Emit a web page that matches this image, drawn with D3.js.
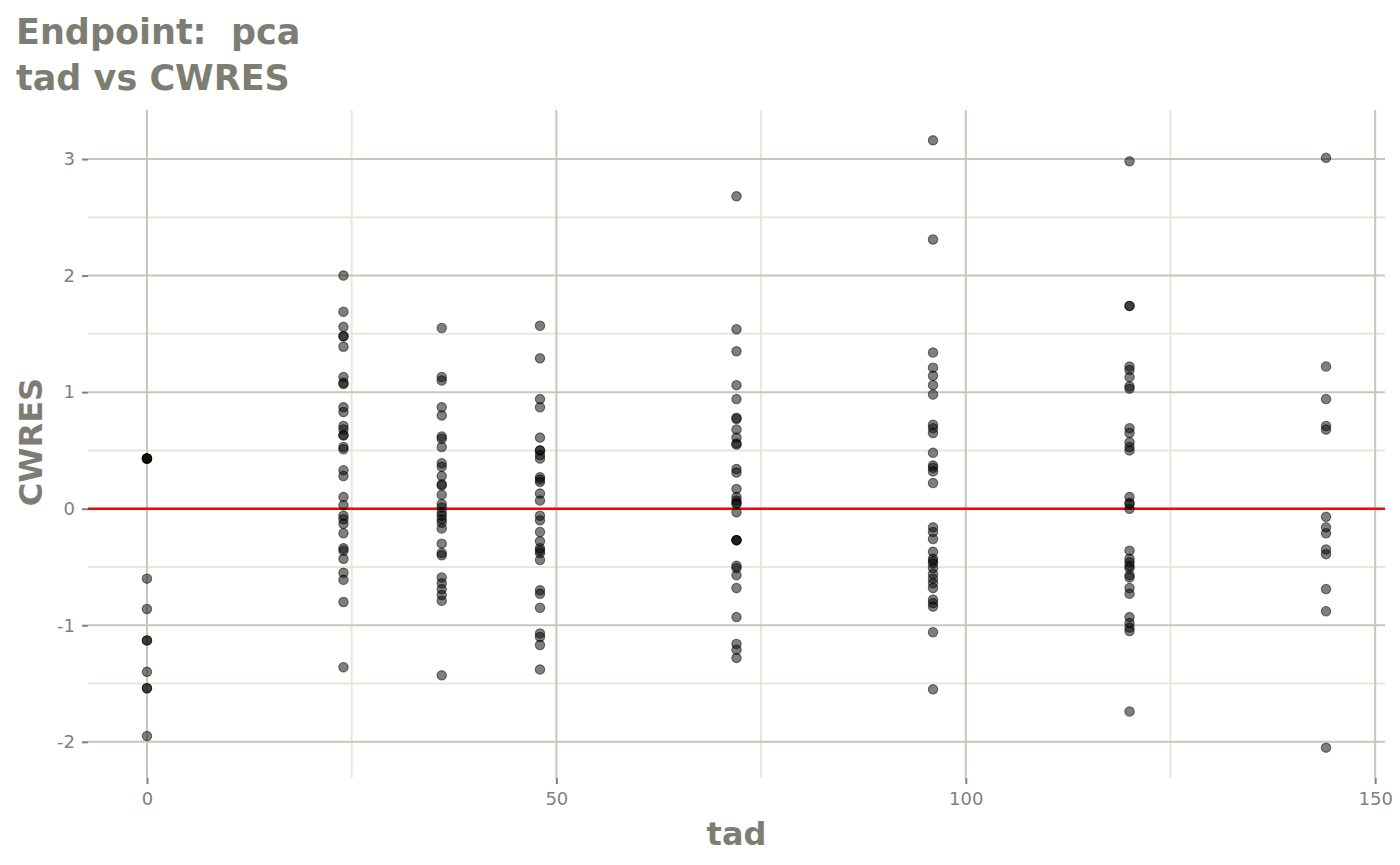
<!DOCTYPE html>
<html>
<head>
<meta charset="utf-8">
<script src="https://cdn.jsdelivr.net/npm/d3@7"></script>
<style>
  html, body { margin: 0; padding: 0; background: #ffffff; }
  svg { display: block; }
</style>
</head>
<body>
<div id="chart"></div>
<script>
// ---- data ----
const titleLines = ["Endpoint:  pca", "tad vs CWRES"];
const xLabel = "tad";
const yLabel = "CWRES";
const tadValues = [0, 24, 36, 48, 72, 96, 120, 144];
const cwresTad0 = [0.43, 0.43, 0.43, 0.43, -0.60, -0.86, -1.13, -1.13, -1.40, -1.54, -1.54, -1.95];
const cwresTad24 = [2.00, 1.69, 1.56, 1.48, 1.48, 1.39, 1.13, 1.08, 1.07, 0.87, 0.83, 0.71, 0.68, 0.63, 0.63, 0.53, 0.51, 0.33, 0.28, 0.10, 0.03, -0.06, -0.09, -0.13, -0.21, -0.34, -0.36, -0.43, -0.55, -0.61, -0.80, -1.36];
const cwresTad36 = [1.55, 1.13, 1.10, 0.87, 0.80, 0.62, 0.60, 0.53, 0.39, 0.36, 0.28, 0.21, 0.20, 0.12, 0.04, 0.01, -0.03, -0.06, -0.09, -0.12, -0.17, -0.30, -0.38, -0.40, -0.59, -0.64, -0.69, -0.74, -0.79, -1.43];
const cwresTad48 = [1.57, 1.29, 0.94, 0.87, 0.61, 0.50, 0.50, 0.46, 0.43, 0.27, 0.25, 0.23, 0.13, 0.07, -0.06, -0.10, -0.20, -0.28, -0.34, -0.36, -0.38, -0.44, -0.70, -0.73, -0.85, -1.07, -1.10, -1.17, -1.38];
const cwresTad72 = [2.68, 1.54, 1.35, 1.06, 0.94, 0.78, 0.77, 0.68, 0.61, 0.56, 0.55, 0.34, 0.31, 0.17, 0.10, 0.07, 0.05, 0.04, -0.03, -0.27, -0.27, -0.27, -0.49, -0.51, -0.57, -0.68, -0.93, -1.16, -1.21, -1.28];
const cwresTad96 = [3.16, 2.31, 1.34, 1.21, 1.14, 1.06, 0.98, 0.72, 0.69, 0.65, 0.48, 0.37, 0.35, 0.32, 0.22, -0.16, -0.20, -0.26, -0.37, -0.43, -0.45, -0.47, -0.51, -0.56, -0.60, -0.64, -0.68, -0.78, -0.81, -0.84, -1.06, -1.55];
const cwresTad120 = [2.98, 1.74, 1.74, 1.22, 1.19, 1.13, 1.05, 1.03, 0.69, 0.65, 0.57, 0.53, 0.50, 0.10, 0.05, 0.04, 0.00, -0.36, -0.43, -0.46, -0.49, -0.51, -0.57, -0.59, -0.68, -0.73, -0.93, -0.98, -1.02, -1.05, -1.74];
const cwresTad144 = [3.01, 1.22, 0.94, 0.71, 0.68, -0.07, -0.16, -0.21, -0.35, -0.39, -0.69, -0.88, -2.05];
const xTicks = [0, 50, 100, 150];
const xMinorTicks = [25, 75, 125];
const yTicks = [-2, -1, 0, 1, 2, 3];
const yMinorTicks = [-1.5, -0.5, 0.5, 1.5, 2.5];
const refLineValue = 0;

const cwresByTad = [cwresTad0, cwresTad24, cwresTad36, cwresTad48, cwresTad72, cwresTad96, cwresTad120, cwresTad144];
const points = [];
tadValues.forEach((t, i) => cwresByTad[i].forEach(v => points.push({ tad: t, cwres: v })));

// ---- layout ----
const W = 1400, H = 865;
const panel = { left: 88, right: 1385, top: 110, bottom: 778 };

function expand(ext, f) { const r = ext[1] - ext[0]; return [ext[0] - r * f, ext[1] + r * f]; }
const x = d3.scaleLinear().domain(expand(d3.extent(points, d => d.tad), 0.05)).range([panel.left, panel.right]);
const y = d3.scaleLinear().domain(expand(d3.extent(points, d => d.cwres), 0.05)).range([panel.bottom, panel.top]);

const svg = d3.select("#chart").append("svg").attr("width", W).attr("height", H)
  .style("font-family", "'DejaVu Sans', sans-serif");

const majorCol = "#c7c7b9", minorCol = "#e8e8da", textCol = "#7f7f7f", titleCol = "#7d7d74";

// minor grid
svg.append("g").selectAll("line").data(yMinorTicks).join("line")
  .attr("x1", panel.left).attr("x2", panel.right)
  .attr("y1", d => y(d)).attr("y2", d => y(d))
  .attr("stroke", minorCol).attr("stroke-width", 2);
svg.append("g").selectAll("line").data(xMinorTicks).join("line")
  .attr("y1", panel.top).attr("y2", panel.bottom)
  .attr("x1", d => x(d)).attr("x2", d => x(d))
  .attr("stroke", minorCol).attr("stroke-width", 2);
// major grid
svg.append("g").selectAll("line").data(yTicks).join("line")
  .attr("x1", panel.left).attr("x2", panel.right)
  .attr("y1", d => y(d)).attr("y2", d => y(d))
  .attr("stroke", majorCol).attr("stroke-width", 2);
svg.append("g").selectAll("line").data(xTicks).join("line")
  .attr("y1", panel.top).attr("y2", panel.bottom)
  .attr("x1", d => x(d)).attr("x2", d => x(d))
  .attr("stroke", majorCol).attr("stroke-width", 2);

// axes
const xAxis = svg.append("g").attr("transform", `translate(0,${panel.bottom})`)
  .call(d3.axisBottom(x).tickValues(xTicks).tickFormat(d3.format("d")).tickSize(6).tickPadding(8));
const yAxis = svg.append("g").attr("transform", `translate(${panel.left},0)`)
  .call(d3.axisLeft(y).tickValues(yTicks).tickFormat(d => d < 0 ? "-" + Math.abs(d) : String(d)).tickSize(6).tickPadding(7));
[xAxis, yAxis].forEach(a => {
  a.select(".domain").remove();
  a.selectAll(".tick line").attr("stroke", textCol).attr("stroke-width", 2);
  a.selectAll(".tick text").attr("fill", textCol).style("font-size", "18px").style("font-family", "'DejaVu Sans', sans-serif");
});

// reference line
svg.append("line")
  .attr("x1", panel.left).attr("x2", panel.right)
  .attr("y1", y(refLineValue)).attr("y2", y(refLineValue))
  .attr("stroke", "#ff0000").attr("stroke-width", 2.5);

// points
svg.append("g").selectAll("circle").data(points).join("circle")
  .attr("cx", d => x(d.tad)).attr("cy", d => y(d.cwres))
  .attr("r", 4.7)
  .attr("fill", "rgba(0,0,0,0.5)")
  .attr("stroke", "rgba(0,0,0,0.5)")
  .attr("stroke-width", 1.1);

// titles
svg.append("g").selectAll("text").data(titleLines).join("text")
  .attr("x", 16).attr("y", (d, i) => 44 + i * 46)
  .attr("xml:space", "preserve").style("white-space", "pre")
  .attr("fill", titleCol).style("font-size", "35px").style("font-weight", "bold")
  .text(d => d);

svg.append("text")
  .attr("x", (panel.left + panel.right) / 2).attr("y", 845)
  .attr("text-anchor", "middle").attr("fill", titleCol)
  .style("font-size", "32px").style("font-weight", "bold").text(xLabel);

svg.append("text")
  .attr("transform", `translate(42,${(panel.top + panel.bottom) / 2 - 2}) rotate(-90)`)
  .attr("text-anchor", "middle").attr("fill", titleCol)
  .style("font-size", "32px").style("font-weight", "bold").text(yLabel);
</script>
</body>
</html>
